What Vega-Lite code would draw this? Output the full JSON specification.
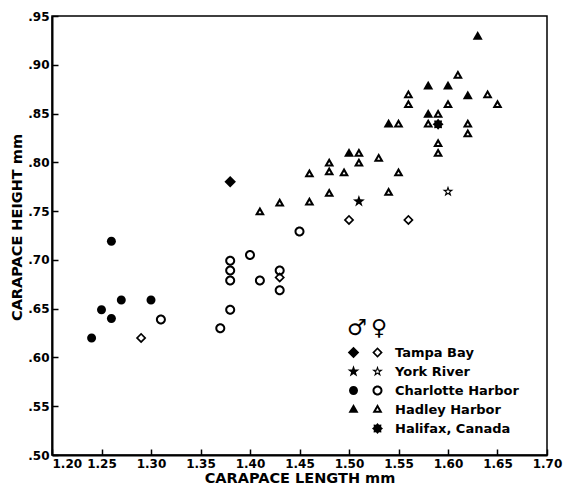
{
  "$schema": "https://vega.github.io/schema/vega-lite/v6.json",
  "width": 495,
  "height": 439,
  "autosize": {"type": "none"},
  "padding": {"left": 52, "top": 16, "right": 16, "bottom": 33},
  "background": "white",
  "config": {"view": {"stroke": "black", "strokeWidth": 1.5}, "font": "DejaVu Sans"},
  "data": {"values": [
    {"site": "Tampa Bay", "sex": "male", "length": 1.38, "height": 0.78},
    {"site": "Tampa Bay", "sex": "female", "length": 1.29, "height": 0.62},
    {"site": "Tampa Bay", "sex": "female", "length": 1.43, "height": 0.682},
    {"site": "Tampa Bay", "sex": "female", "length": 1.50, "height": 0.741},
    {"site": "Tampa Bay", "sex": "female", "length": 1.56, "height": 0.741},
    {"site": "York River", "sex": "male", "length": 1.51, "height": 0.76},
    {"site": "York River", "sex": "female", "length": 1.60, "height": 0.77},
    {"site": "Charlotte Harbor", "sex": "male", "length": 1.24, "height": 0.62},
    {"site": "Charlotte Harbor", "sex": "male", "length": 1.25, "height": 0.649},
    {"site": "Charlotte Harbor", "sex": "male", "length": 1.26, "height": 0.64},
    {"site": "Charlotte Harbor", "sex": "male", "length": 1.26, "height": 0.719},
    {"site": "Charlotte Harbor", "sex": "male", "length": 1.27, "height": 0.659},
    {"site": "Charlotte Harbor", "sex": "male", "length": 1.30, "height": 0.659},
    {"site": "Charlotte Harbor", "sex": "female", "length": 1.31, "height": 0.639},
    {"site": "Charlotte Harbor", "sex": "female", "length": 1.37, "height": 0.63},
    {"site": "Charlotte Harbor", "sex": "female", "length": 1.38, "height": 0.649},
    {"site": "Charlotte Harbor", "sex": "female", "length": 1.38, "height": 0.679},
    {"site": "Charlotte Harbor", "sex": "female", "length": 1.38, "height": 0.689},
    {"site": "Charlotte Harbor", "sex": "female", "length": 1.38, "height": 0.699},
    {"site": "Charlotte Harbor", "sex": "female", "length": 1.40, "height": 0.705},
    {"site": "Charlotte Harbor", "sex": "female", "length": 1.41, "height": 0.679},
    {"site": "Charlotte Harbor", "sex": "female", "length": 1.43, "height": 0.689},
    {"site": "Charlotte Harbor", "sex": "female", "length": 1.43, "height": 0.669},
    {"site": "Charlotte Harbor", "sex": "female", "length": 1.45, "height": 0.729},
    {"site": "Hadley Harbor", "sex": "male", "length": 1.50, "height": 0.809},
    {"site": "Hadley Harbor", "sex": "male", "length": 1.54, "height": 0.839},
    {"site": "Hadley Harbor", "sex": "male", "length": 1.58, "height": 0.878},
    {"site": "Hadley Harbor", "sex": "male", "length": 1.60, "height": 0.878},
    {"site": "Hadley Harbor", "sex": "male", "length": 1.62, "height": 0.868},
    {"site": "Hadley Harbor", "sex": "male", "length": 1.58, "height": 0.849},
    {"site": "Hadley Harbor", "sex": "male", "length": 1.63, "height": 0.929},
    {"site": "Hadley Harbor", "sex": "female", "length": 1.41, "height": 0.749},
    {"site": "Hadley Harbor", "sex": "female", "length": 1.43, "height": 0.758},
    {"site": "Hadley Harbor", "sex": "female", "length": 1.46, "height": 0.759},
    {"site": "Hadley Harbor", "sex": "female", "length": 1.46, "height": 0.788},
    {"site": "Hadley Harbor", "sex": "female", "length": 1.48, "height": 0.768},
    {"site": "Hadley Harbor", "sex": "female", "length": 1.48, "height": 0.79},
    {"site": "Hadley Harbor", "sex": "female", "length": 1.48, "height": 0.799},
    {"site": "Hadley Harbor", "sex": "female", "length": 1.495, "height": 0.789},
    {"site": "Hadley Harbor", "sex": "female", "length": 1.51, "height": 0.809},
    {"site": "Hadley Harbor", "sex": "female", "length": 1.51, "height": 0.799},
    {"site": "Hadley Harbor", "sex": "female", "length": 1.53, "height": 0.804},
    {"site": "Hadley Harbor", "sex": "female", "length": 1.54, "height": 0.769},
    {"site": "Hadley Harbor", "sex": "female", "length": 1.55, "height": 0.789},
    {"site": "Hadley Harbor", "sex": "female", "length": 1.55, "height": 0.839},
    {"site": "Hadley Harbor", "sex": "female", "length": 1.56, "height": 0.869},
    {"site": "Hadley Harbor", "sex": "female", "length": 1.56, "height": 0.859},
    {"site": "Hadley Harbor", "sex": "female", "length": 1.58, "height": 0.839},
    {"site": "Hadley Harbor", "sex": "female", "length": 1.59, "height": 0.849},
    {"site": "Hadley Harbor", "sex": "female", "length": 1.59, "height": 0.819},
    {"site": "Hadley Harbor", "sex": "female", "length": 1.59, "height": 0.809},
    {"site": "Hadley Harbor", "sex": "female", "length": 1.60, "height": 0.859},
    {"site": "Hadley Harbor", "sex": "female", "length": 1.61, "height": 0.889},
    {"site": "Hadley Harbor", "sex": "female", "length": 1.62, "height": 0.839},
    {"site": "Hadley Harbor", "sex": "female", "length": 1.62, "height": 0.829},
    {"site": "Hadley Harbor", "sex": "female", "length": 1.64, "height": 0.869},
    {"site": "Hadley Harbor", "sex": "female", "length": 1.65, "height": 0.859},
    {"site": "Halifax, Canada", "sex": "unknown", "length": 1.59, "height": 0.839}
  ]},
  "encoding": {
    "x": {
      "field": "length", "type": "quantitative",
      "scale": {"domain": [1.2, 1.7], "nice": false, "zero": false},
      "axis": {
        "values": [1.2, 1.25, 1.3, 1.35, 1.4, 1.45, 1.5, 1.55, 1.6, 1.65, 1.7],
        "format": ".2f",
        "title": "CARAPACE LENGTH mm",
        "titleFont": "DejaVu Sans", "titleFontSize": 14.5, "titleFontWeight": "bold", "titleColor": "black", "titlePadding": 2,
        "labelFont": "DejaVu Sans", "labelFontSize": 12, "labelFontWeight": "bold", "labelColor": "black",
        "labelAlign": {"expr": "datum.value === 1.2 ? 'left' : 'center'"},
        "labelPadding": 9, "labelFlush": false, "labelOverlap": false,
        "domainColor": "black", "domainWidth": 2,
        "tickColor": "black", "tickWidth": 1.5, "tickSize": -6,
        "grid": false
      }
    },
    "y": {
      "field": "height", "type": "quantitative",
      "scale": {"domain": [0.5, 0.95], "nice": false, "zero": false},
      "axis": {
        "values": [0.5, 0.55, 0.6, 0.65, 0.7, 0.75, 0.8, 0.85, 0.9, 0.95],
        "labelExpr": "replace(format(datum.value, '.2f'), '0.', '.')",
        "title": "CARAPACE HEIGHT mm",
        "titleFont": "DejaVu Sans", "titleFontSize": 14.5, "titleFontWeight": "bold", "titleColor": "black", "titlePadding": 3,
        "titleY": 211,
        "labelFont": "DejaVu Sans", "labelFontSize": 12, "labelFontWeight": "bold", "labelColor": "black",
        "labelPadding": 9, "labelFlush": false, "labelOverlap": false,
        "domainColor": "black", "domainWidth": 2,
        "tickColor": "black", "tickWidth": 1.5, "tickSize": -6,
        "grid": false
      }
    }
  },
  "layer": [
    {
      "transform": [{"filter": "datum.sex === 'male'"}],
      "mark": {"type": "point", "filled": true, "fill": "black", "strokeWidth": 0, "opacity": 1, "size": 100},
      "encoding": {
        "shape": {
          "field": "site", "type": "nominal",
          "scale": {
            "domain": ["Tampa Bay", "York River", "Charlotte Harbor", "Hadley Harbor"],
            "range": [
              "M0,-1.15L1.15,0L0,1.15L-1.15,0Z",
              "M0,-1.25L0.294,-0.405L1.189,-0.386L0.475,0.155L0.735,1.011L0,0.5L-0.735,1.011L-0.475,0.155L-1.189,-0.386L-0.294,-0.405Z",
              "M0.9,0A0.9,0.9 0 1,1 -0.9,0A0.9,0.9 0 1,1 0.9,0Z",
              "M0,-1.1L1,0.65L-1,0.65Z"
            ]
          },
          "legend": {
            "title": "♂", "orient": "none", "legendX": 295, "legendY": 302,
            "titleFont": "DejaVu Sans", "titleFontSize": 22, "titleFontWeight": "normal", "titleColor": "black", "titlePadding": 5,
            "padding": 0, "rowPadding": 4, "clipHeight": 15,
            "labelFont": "DejaVu Sans", "labelFontSize": 13, "labelExpr": "' '",
            "symbolFillColor": "black", "symbolStrokeColor": "black", "symbolStrokeWidth": 0, "symbolSize": 100, "symbolOpacity": 1
          }
        }
      }
    },
    {
      "transform": [{"filter": "datum.sex !== 'male'"}],
      "mark": {"type": "point", "filled": true, "fill": "black", "strokeWidth": 0, "opacity": 1, "size": 100},
      "encoding": {
        "shape": {
          "field": "site", "type": "nominal",
          "scale": {
            "domain": ["Tampa Bay", "York River", "Charlotte Harbor", "Hadley Harbor", "Halifax, Canada"],
            "range": [
              "M0,-1.05L1.05,0L0,1.05L-1.05,0Z M0,-0.58L-0.58,0L0,0.58L0.58,0Z",
              "M0,-1.15L0.27,-0.372L1.094,-0.355L0.437,0.142L0.676,0.93L0,0.46L-0.676,0.93L-0.437,0.142L-1.094,-0.355L-0.27,-0.372Z M0,-0.45L-0.108,-0.149L-0.43,-0.142L-0.175,0.057L-0.27,0.372L0,0.184L0.27,0.372L0.175,0.057L0.43,-0.142L0.108,-0.149Z",
              "M1,0A1,1 0 1,1 -1,0A1,1 0 1,1 1,0Z M0.6,0A0.6,0.6 0 1,0 -0.6,0A0.6,0.6 0 1,0 0.6,0Z",
              "M0,-1.1L1,0.65L-1,0.65Z M0,-0.28L-0.3,0.245L0.3,0.245Z",
              "M1.1,0L0.739,0.306L0.778,0.778L0.306,0.739L0,1.1L-0.306,0.739L-0.778,0.778L-0.739,0.306L-1.1,0L-0.739,-0.306L-0.778,-0.778L-0.306,-0.739L0,-1.1L0.306,-0.739L0.778,-0.778L0.739,-0.306Z"
            ]
          },
          "legend": {
            "title": "♀", "orient": "none", "legendX": 319, "legendY": 302,
            "titleFont": "DejaVu Sans", "titleFontSize": 22, "titleFontWeight": "normal", "titleColor": "black", "titlePadding": 5,
            "padding": 0, "rowPadding": 4, "clipHeight": 15, "labelOffset": 11,
            "labelFont": "DejaVu Sans", "labelFontSize": 13, "labelFontWeight": "bold", "labelColor": "black",
            "symbolFillColor": "black", "symbolStrokeColor": "black", "symbolStrokeWidth": 0, "symbolSize": 100, "symbolOpacity": 1
          }
        }
      }
    }
  ],
  "resolve": {"scale": {"shape": "independent"}, "legend": {"shape": "independent"}}
}
